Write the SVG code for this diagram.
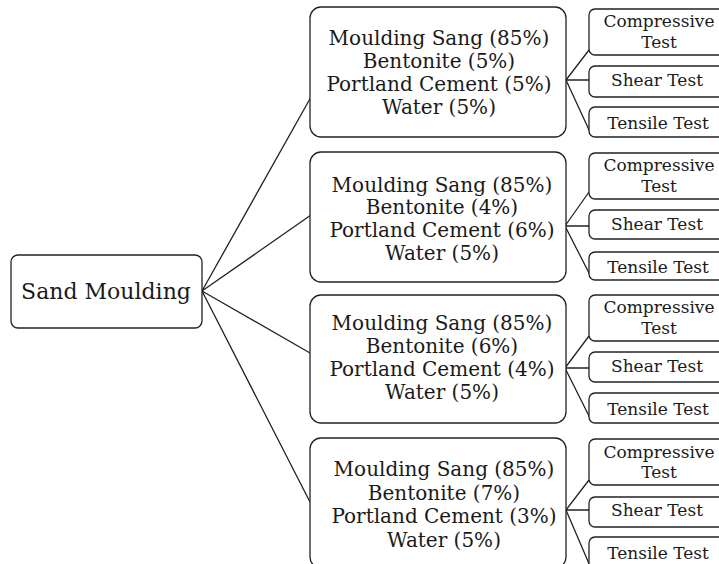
<svg xmlns="http://www.w3.org/2000/svg" width="719" height="564" viewBox="0 0 719 564">
<style>
.box{fill:#fff;stroke:#222;stroke-width:1.3}
.ln{stroke:#222;stroke-width:1.3;fill:none}
text{font-family:"DejaVu Serif","Liberation Serif",serif;fill:#1a1a1a;text-anchor:middle}
.m{font-size:20px}
.r{font-size:17px}
.root{font-size:22px}
</style>
<rect width="719" height="564" fill="#fff"/>
<g id="connectors" class="ln">
<path d="M202,291 L311,97 M202,291 L311,215 M202,291 L310,353 M202,291 L310,502"/>
<path d="M566,80 L589,50 M566,80 L589,80 M566,80 L590,132"/>
<path d="M565,226 L589,192 M565,226 L589,226 M565,226 L590,275"/>
<path d="M565,368 L589,336 M565,368 L589,368 M565,368 L590,418"/>
<path d="M566,510 L589,480 M566,510 L589,510 M566,510 L590,566"/>
</g>
<g id="root"><rect class="box" x="11" y="255" width="191" height="73" rx="7"/><text class="root" x="106" y="299">Sand Moulding</text></g>
<g id="mix1"><rect class="box" x="310" y="7" width="256" height="130" rx="11"/>
<text class="m" x="439"><tspan x="439" y="45">Moulding Sang (85%)</tspan><tspan x="439" y="68">Bentonite (5%)</tspan><tspan x="439" y="91">Portland Cement (5%)</tspan><tspan x="439" y="114">Water (5%)</tspan></text></g>
<g id="mix2"><rect class="box" x="310" y="152" width="256" height="130" rx="11"/>
<text class="m" x="442"><tspan x="442" y="192">Moulding Sang (85%)</tspan><tspan x="442" y="214">Bentonite (4%)</tspan><tspan x="442" y="237">Portland Cement (6%)</tspan><tspan x="442" y="260">Water (5%)</tspan></text></g>
<g id="mix3"><rect class="box" x="310" y="295" width="256" height="128" rx="11"/>
<text class="m" x="442"><tspan x="442" y="330">Moulding Sang (85%)</tspan><tspan x="442" y="353">Bentonite (6%)</tspan><tspan x="442" y="376">Portland Cement (4%)</tspan><tspan x="442" y="399">Water (5%)</tspan></text></g>
<g id="mix4"><rect class="box" x="310" y="438" width="256" height="130" rx="11"/>
<text class="m" x="444"><tspan x="444" y="476">Moulding Sang (85%)</tspan><tspan x="444" y="500">Bentonite (7%)</tspan><tspan x="444" y="523">Portland Cement (3%)</tspan><tspan x="444" y="547">Water (5%)</tspan></text></g>
<g id="comp1"><rect class="box" x="589" y="9" width="140" height="46" rx="6"/><text class="r"><tspan x="659" y="27">Compressive</tspan><tspan x="659" y="48">Test</tspan></text></g>
<g id="shear1"><rect class="box" x="589" y="66" width="140" height="31" rx="6"/><text class="r" x="657" y="86">Shear Test</text></g>
<g id="tensile1"><rect class="box" x="589" y="107" width="140" height="30" rx="6"/><text class="r" x="658" y="129">Tensile Test</text></g>
<g id="comp2"><rect class="box" x="589" y="153" width="140" height="46" rx="6"/><text class="r"><tspan x="659" y="171">Compressive</tspan><tspan x="659" y="192">Test</tspan></text></g>
<g id="shear2"><rect class="box" x="589" y="210" width="140" height="29" rx="6"/><text class="r" x="657" y="230">Shear Test</text></g>
<g id="tensile2"><rect class="box" x="589" y="252" width="140" height="28" rx="6"/><text class="r" x="658" y="273">Tensile Test</text></g>
<g id="comp3"><rect class="box" x="589" y="295" width="140" height="46" rx="6"/><text class="r"><tspan x="659" y="313">Compressive</tspan><tspan x="659" y="334">Test</tspan></text></g>
<g id="shear3"><rect class="box" x="589" y="352" width="140" height="30" rx="6"/><text class="r" x="657" y="372">Shear Test</text></g>
<g id="tensile3"><rect class="box" x="589" y="393" width="140" height="30" rx="6"/><text class="r" x="658" y="415">Tensile Test</text></g>
<g id="comp4"><rect class="box" x="589" y="439" width="140" height="46" rx="6"/><text class="r"><tspan x="659" y="458">Compressive</tspan><tspan x="659" y="478">Test</tspan></text></g>
<g id="shear4"><rect class="box" x="589" y="497" width="140" height="30" rx="6"/><text class="r" x="657" y="516">Shear Test</text></g>
<g id="tensile4"><rect class="box" x="589" y="537" width="140" height="32" rx="6"/><text class="r" x="658" y="559">Tensile Test</text></g>
</svg>
